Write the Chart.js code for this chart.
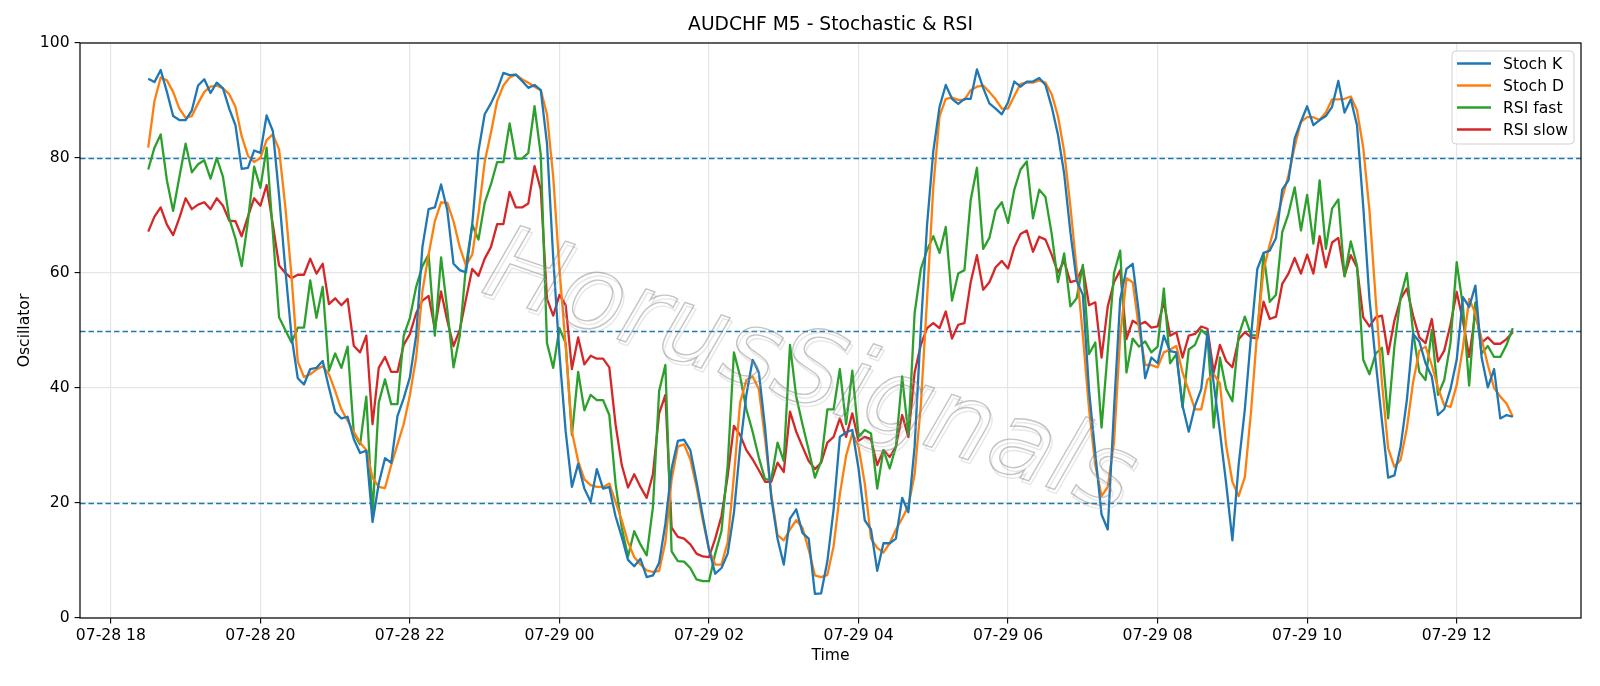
<!DOCTYPE html>
<html>
<head>
<meta charset="utf-8">
<script src="https://cdn.jsdelivr.net/npm/chart.js@4.4.1/dist/chart.umd.min.js"></script>
<style>
  html, body { margin: 0; padding: 0; background: #fff; }
</style>
</head>
<body>
<canvas id="osc" width="1600" height="686"></canvas>
<script>
/* DATA (M5 bars, 07-28 18:30 -> 07-29 12:45) */
const startHour = 18.5;
const barHours = 5 / 60;

const stochK = [
  93.8, 93.2, 95.3, 91.5, 87.3, 86.6, 86.6, 88.3, 92.6, 93.7, 91.3, 93.1, 92.1, 88.6, 85.7, 78.1, 78.3, 81.3, 80.9, 87.4,
  84.7, 73.5, 60.7, 49.0, 41.7, 40.6, 43.3, 43.5, 44.7, 40.1, 35.8, 34.7, 35.0, 31.1, 28.7, 29.1, 16.7, 23.4, 27.8, 27.0,
  35.1, 38.2, 41.9, 49.1, 64.5, 71.1, 71.4, 75.4, 70.9, 61.6, 60.5, 60.1, 68.4, 81.2, 87.6, 89.5, 91.8, 94.8, 94.4, 94.5,
  93.4, 92.2, 92.7, 91.8, 82.5, 62.6, 45.9, 32.4, 22.8, 26.8, 22.5, 20.2, 25.9, 22.5, 22.8, 17.7, 14.1, 10.1, 9.0, 10.3,
  7.1, 7.4, 9.6, 16.4, 26.0, 30.8, 31.0, 29.2, 23.7, 17.7, 11.9, 7.7, 8.7, 11.2, 18.3, 29.8, 38.8, 44.9, 42.7, 33.1,
  20.9, 13.8, 9.3, 17.3, 18.9, 14.8, 13.8, 4.2, 4.3, 9.9, 18.9, 31.5, 32.3, 32.7, 26.0, 17.0, 15.4, 8.2, 13.0, 13.0,
  13.8, 20.9, 18.4, 29.8, 50.4, 68.4, 81.2, 88.9, 92.7, 90.3, 89.4, 90.3, 90.3, 95.4, 92.2, 89.5, 88.6, 87.6, 89.7, 93.3,
  92.4, 93.3, 93.3, 93.9, 92.7, 88.9, 84.1, 77.3, 67.1, 58.7, 56.2, 39.5, 28.6, 18.0, 15.4, 36.3, 55.5, 60.7, 61.6, 53.0,
  41.7, 45.3, 44.3, 49.1, 46.4, 46.2, 36.9, 32.4, 36.9, 39.8, 49.7, 40.8, 32.4, 23.4, 13.5, 26.6, 36.3, 49.1, 60.7, 63.5,
  63.9, 66.1, 74.5, 76.1, 83.4, 86.3, 89.0, 85.7, 86.6, 87.3, 88.9, 93.4, 87.9, 90.2, 85.7, 71.6, 55.5, 44.6, 34.3, 24.4,
  24.8, 29.8, 37.9, 49.4, 48.1, 44.3, 42.0, 35.3, 36.3, 39.8, 44.9, 55.8, 54.1, 57.8, 45.3, 40.1, 43.3, 34.7, 35.3, 35.0
];

const stochD = [
  81.8, 89.9, 94.0, 93.5, 91.5, 88.6, 87.0, 87.3, 89.5, 91.5, 92.4, 92.6, 92.1, 91.1, 88.9, 83.8, 80.4, 79.3, 80.0, 83.1,
  84.1, 81.5, 71.6, 59.4, 44.6, 41.9, 42.4, 43.2, 43.8, 42.4, 39.5, 36.3, 34.3, 32.4, 30.5, 29.2, 24.4, 22.8, 22.6, 26.6,
  30.2, 33.7, 38.8, 45.3, 56.8, 63.2, 69.0, 72.3, 72.2, 69.0, 64.5, 61.3, 63.2, 70.3, 79.3, 84.4, 89.9, 92.6, 94.0, 94.5,
  93.7, 93.1, 92.4, 91.8, 87.6, 76.7, 60.7, 47.2, 32.4, 27.3, 24.1, 23.1, 22.8, 22.8, 23.4, 20.2, 17.0, 13.2, 10.6, 9.3,
  8.3, 8.0, 8.2, 13.2, 24.1, 29.8, 30.2, 27.6, 22.8, 17.0, 11.9, 9.3, 9.3, 13.2, 24.7, 37.5, 41.4, 42.0, 39.8, 31.1,
  21.5, 14.4, 13.5, 15.4, 17.0, 15.7, 11.9, 7.4, 7.1, 7.5, 12.5, 21.5, 28.2, 32.1, 29.8, 23.4, 13.8, 12.2, 11.4, 13.0,
  15.4, 17.3, 19.5, 25.0, 37.0, 55.5, 75.0, 87.3, 90.3, 90.5, 90.1, 90.1, 91.8, 92.4, 92.6, 91.5, 90.2, 88.6, 88.6, 90.8,
  92.9, 93.1, 93.1, 93.5, 93.1, 91.1, 87.3, 81.2, 71.6, 60.7, 49.1, 36.3, 26.6, 21.2, 22.8, 30.5, 49.1, 59.1, 58.4, 50.4,
  44.0, 44.0, 43.6, 46.2, 46.7, 47.3, 42.7, 39.5, 36.3, 36.3, 41.4, 42.4, 40.8, 30.0, 23.7, 21.2, 24.5, 36.0, 50.0, 60.5,
  65.0, 69.0, 73.0, 77.0, 82.0, 86.3, 87.1, 87.1, 86.6, 87.9, 90.2, 90.2, 90.3, 90.7, 88.3, 81.8, 70.9, 55.5, 41.0, 29.5,
  26.3, 27.5, 33.0, 41.0, 46.5, 47.2, 44.0, 40.0, 37.0, 36.7, 40.5, 47.0, 55.5, 53.0, 48.5, 44.0, 40.0, 38.5, 37.3, 35.0
];

const rsiFast = [
  78.0, 81.8, 84.1, 76.1, 70.8, 76.7, 82.5, 77.5, 78.9, 79.6, 76.4, 80.0, 76.7, 69.5, 66.0, 61.2, 69.0, 78.5, 74.8, 81.8,
  67.0, 52.3, 50.1, 47.9, 50.5, 50.5, 58.7, 52.2, 57.6, 43.0, 46.0, 43.5, 47.2, 32.1, 30.2, 38.5, 18.0, 37.5, 41.5, 37.2,
  37.2, 49.1, 52.2, 57.6, 61.2, 63.2, 49.1, 62.7, 53.6, 43.6, 49.1, 61.3, 68.4, 65.8, 72.2, 75.4, 79.3, 79.3, 86.0, 79.9,
  79.9, 80.9, 89.0, 80.6, 47.8, 43.5, 50.4, 47.8, 31.8, 42.8, 36.1, 38.8, 37.9, 37.9, 35.3, 23.4, 15.7, 10.7, 15.1, 12.8,
  10.9, 19.3, 39.5, 44.0, 11.6, 9.9, 9.8, 8.7, 6.7, 6.4, 6.4, 11.2, 15.1, 26.6, 46.2, 42.0, 36.3, 32.4, 27.9, 24.1,
  24.1, 30.5, 27.3, 47.5, 38.5, 33.7, 29.2, 24.4, 27.3, 36.3, 36.3, 43.3, 33.7, 43.0, 31.5, 32.7, 32.1, 22.5, 29.2, 26.0,
  29.8, 42.0, 31.8, 53.0, 60.7, 64.0, 66.4, 63.5, 68.0, 55.2, 59.9, 60.5, 72.7, 78.3, 64.2, 66.1, 70.9, 72.3, 68.7, 74.5,
  78.0, 79.4, 69.5, 74.5, 73.2, 66.8, 58.4, 63.4, 54.2, 55.6, 61.4, 45.9, 47.9, 33.1, 46.5, 60.0, 63.9, 42.7, 48.6, 47.2,
  48.1, 46.2, 47.2, 57.3, 44.3, 45.9, 36.6, 46.7, 47.5, 50.1, 49.1, 33.1, 45.3, 39.8, 37.7, 49.1, 52.4, 49.2, 49.1, 63.4,
  55.0, 56.2, 67.1, 70.3, 74.9, 67.4, 73.6, 65.1, 76.1, 64.2, 71.2, 72.8, 59.4, 65.5, 61.3, 44.9, 42.4, 46.0, 47.0, 34.7,
  47.2, 55.8, 60.0, 49.7, 42.8, 41.4, 50.1, 38.8, 41.4, 47.8, 61.9, 54.2, 40.4, 54.9, 46.0, 47.3, 45.4, 45.4, 47.5, 50.4
];

const rsiSlow = [
  67.2, 69.8, 71.4, 68.4, 66.6, 69.6, 73.0, 71.1, 71.9, 72.3, 71.1, 73.0, 71.7, 69.1, 69.0, 66.4, 69.8, 73.0, 71.7, 75.3,
  68.4, 61.3, 60.0, 59.1, 59.7, 59.7, 62.5, 59.9, 61.6, 54.6, 55.6, 54.4, 55.5, 47.3, 46.2, 49.1, 33.7, 43.5, 45.4, 42.8,
  42.8, 47.5, 49.4, 53.0, 55.2, 56.0, 50.3, 56.8, 51.7, 47.3, 50.1, 55.5, 60.7, 59.5, 62.5, 64.5, 68.5, 68.5, 74.1, 71.4,
  71.4, 72.1, 78.6, 74.5, 55.5, 52.6, 56.2, 54.4, 43.3, 48.8, 44.1, 45.6, 45.1, 45.1, 43.6, 33.7, 26.6, 22.7, 25.0, 22.8,
  20.9, 25.0, 35.6, 38.8, 15.7, 14.1, 13.8, 12.8, 11.2, 10.7, 10.6, 13.8, 17.7, 24.7, 33.4, 31.8, 29.2, 27.6, 25.7, 23.7,
  23.7, 27.0, 25.4, 35.9, 32.4, 29.8, 27.3, 25.9, 27.0, 30.5, 31.5, 34.7, 31.5, 35.6, 30.8, 31.5, 31.1, 26.6, 29.2, 28.0,
  29.8, 35.3, 31.5, 42.7, 47.5, 50.4, 51.3, 50.4, 53.3, 48.6, 51.0, 51.3, 58.4, 63.1, 57.1, 58.4, 61.0, 62.1, 60.8, 64.5,
  66.8, 67.4, 63.7, 66.3, 65.8, 63.2, 60.1, 62.1, 58.4, 58.7, 61.0, 54.4, 54.9, 45.3, 54.2, 58.4, 60.5, 48.5, 51.7, 51.0,
  51.5, 50.5, 50.7, 55.0, 49.1, 49.7, 45.3, 49.1, 49.4, 50.7, 50.3, 42.7, 47.5, 44.7, 43.6, 48.5, 49.7, 48.8, 48.6, 55.0,
  52.0, 52.4, 58.1, 59.9, 62.6, 59.9, 63.2, 59.9, 66.4, 61.0, 65.3, 66.1, 59.5, 63.1, 61.0, 52.3, 50.7, 52.3, 52.6, 45.9,
  51.7, 55.5, 57.3, 52.6, 48.8, 47.8, 52.0, 44.6, 46.5, 51.0, 56.7, 51.7, 45.4, 53.1, 47.9, 48.8, 47.7, 47.7, 48.5, 49.7
];

const times = stochK.map((_, i) => startHour + i * barHours);
const levels = [20, 50, 80];
const seriesNames = ["Stoch K", "Stoch D", "RSI fast", "RSI slow"];
const seriesColors = ["#1f77b4", "#ff7f0e", "#2ca02c", "#d62728"];

function hourLabel(h) {
  const day = h >= 24 ? "07-29" : "07-28";
  const hh = String(Math.round(h) % 24).padStart(2, "0");
  return day + " " + hh;
}

Chart.defaults.font.family = "'DejaVu Sans', sans-serif";
Chart.defaults.font.size = 15.6;
Chart.defaults.color = "#000";

/* reference lines at 20/50/80 */
const levelLines = {
  id: "levelLines",
  beforeDatasetsDraw(chart) {
    const { ctx, chartArea: a, scales: { y } } = chart;
    ctx.save();
    ctx.strokeStyle = "#1f77b4";
    ctx.lineWidth = 1.4;
    ctx.setLineDash([5.5, 3]);
    levels.forEach((v) => {
      const py = Math.round(y.getPixelForValue(v)) + 0.5;
      ctx.beginPath();
      ctx.moveTo(a.left, py);
      ctx.lineTo(a.right, py);
      ctx.stroke();
    });
    ctx.restore();
  },
};

/* watermark, frame, title, legend */
const decor = {
  id: "decor",
  afterDatasetsDraw(chart) {
    const { ctx, chartArea: a } = chart;
    ctx.save();
    ctx.translate(800, 402);
    ctx.rotate((19 * Math.PI) / 180);
    ctx.font = "italic 104px 'DejaVu Sans'";
    ctx.textAlign = "center";
    ctx.textBaseline = "alphabetic";
    ctx.lineWidth = 1.4;
    ctx.strokeStyle = "rgba(185,185,185,0.35)";
    ctx.strokeText("HorusSignals", 3, 3);
    ctx.strokeStyle = "rgba(125,125,125,0.45)";
    ctx.strokeText("HorusSignals", 0, 0);
    ctx.restore();

    ctx.save();
    ctx.strokeStyle = "#000";
    ctx.lineWidth = 1.2;
    ctx.strokeRect(a.left, a.top, a.right - a.left, a.bottom - a.top);
    ctx.restore();
  },
  afterDraw(chart) {
    const { ctx, chartArea: a } = chart;
    ctx.save();
    ctx.fillStyle = "#000";
    ctx.font = "18.7px 'DejaVu Sans'";
    ctx.textAlign = "center";
    ctx.textBaseline = "middle";
    ctx.fillText("AUDCHF M5 - Stochastic & RSI", (a.left + a.right) / 2, 25);

    const bx = a.right - 129, by = a.top + 8, bw = 122, bh = 93;
    ctx.beginPath();
    ctx.roundRect(bx, by, bw, bh, 4);
    ctx.fillStyle = "rgba(255,255,255,0.8)";
    ctx.fill();
    ctx.strokeStyle = "#d0d0d0";
    ctx.lineWidth = 1;
    ctx.stroke();

    ctx.font = "15.6px 'DejaVu Sans'";
    ctx.textAlign = "left";
    seriesNames.forEach((name, k) => {
      const ry = by + 12.5 + k * 22;
      ctx.strokeStyle = seriesColors[k];
      ctx.lineWidth = 2.3;
      ctx.beginPath();
      ctx.moveTo(bx + 5, ry);
      ctx.lineTo(bx + 39, ry);
      ctx.stroke();
      ctx.fillStyle = "#000";
      ctx.fillText(name, bx + 51, ry + 1);
    });
    ctx.restore();
  },
};

const seriesData = [stochK, stochD, rsiFast, rsiSlow];

new Chart(document.getElementById("osc"), {
  type: "line",
  data: {
    labels: times,
    datasets: seriesData.map((vals, k) => ({
      label: seriesNames[k],
      data: vals,
      borderColor: seriesColors[k],
      backgroundColor: seriesColors[k],
      borderWidth: 2.3,
      pointRadius: 0,
      tension: 0,
      borderJoinStyle: "round",
      fill: false,
    })),
  },
  options: {
    responsive: false,
    devicePixelRatio: 1,
    animation: false,
    layout: { padding: { top: 43, right: 19, left: 0, bottom: 0 } },
    plugins: { legend: { display: false }, title: { display: false }, tooltip: { enabled: false } },
    scales: {
      x: {
        type: "linear",
        min: 17.5875,
        max: 37.6625,
        afterFit: (s) => { s.height = 68; },
        border: { display: false },
        grid: { color: "#e6e6e6", lineWidth: 1.2, tickLength: 5.4, tickColor: "#000", tickWidth: 1.1 },
        ticks: {
          stepSize: 2,
          includeBounds: false,
          autoSkip: false,
          maxRotation: 0,
          padding: 3,
          callback: (v) => hourLabel(v),
        },
        title: { display: true, text: "Time", padding: { top: 0, bottom: 20.6 } },
      },
      y: {
        min: 0,
        max: 100,
        afterFit: (s) => { s.width = 80; },
        border: { display: false },
        grid: { color: "#e6e6e6", lineWidth: 1.2, tickLength: 5.4, tickColor: "#000", tickWidth: 1.1 },
        ticks: { stepSize: 20, padding: 5 },
        title: { display: true, text: "Oscillator", padding: { top: 16, bottom: 0 } },
      },
    },
  },
  plugins: [levelLines, decor],
});
</script>
</body>
</html>
